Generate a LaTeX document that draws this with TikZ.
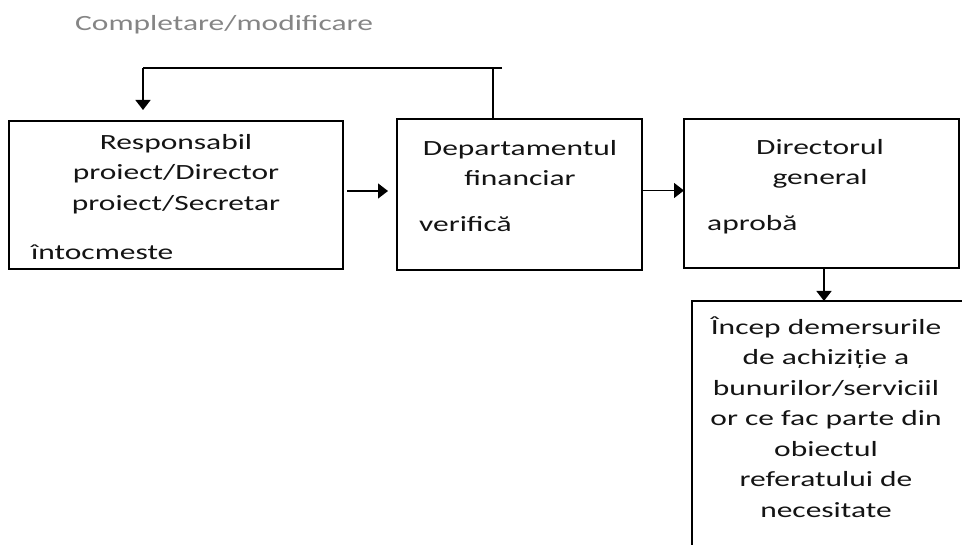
\documentclass[tikz,border=0pt]{standalone}
\usepackage{fontspec}
\setmainfont{Carlito}[FakeStretch=1.45]
\usetikzlibrary{arrows.meta}
\definecolor{titlegrey}{HTML}{858585}
\definecolor{txtgrey}{HTML}{141414}
\tikzset{
    box/.style={draw=black, line width=1.4pt, inner sep=0pt, outer sep=0pt},
    head/.style={align=center, inner sep=0pt, text=txtgrey,
        font=\fontsize{21.7}{30.5}\selectfont},
    note/.style={anchor=west, inner sep=0pt, text=txtgrey,
        font=\fontsize{21.7}{30.5}\selectfont},
    flow/.style={line width=1.4pt, -{Triangle[length=10pt,width=15pt]}},
    line/.style={line width=1.4pt}
}
\begin{document}
\begin{tikzpicture}[x=1pt, y=-1pt]
    \clip (0,0) rectangle (962,545);
    \fill[white] (0,0) rectangle (962,545);

    %%title of the return loop
        \node[note, text=titlegrey] (loopT) at (75,25){Completare/modificare};

    %%the boxes
    \node[box, minimum width=334pt, minimum height=148pt] (resp) at (176,195){};
        \node[head] (respT) at (176,174){Responsabil\\proiect/Director\\proiect/Secretar};
        \node[note] (respN) at (31,252){întocmeste};
    \node[box, minimum width=245pt, minimum height=151pt] (fin) at (519.5,194.5){};
        \node[head] (finT) at (520,163){Departamentul\\financiar};
        \node[note] (finN) at (419,224){verifică};
    \node[box, minimum width=275pt, minimum height=149pt] (dir) at (821.5,193.5){};
        \node[head] (dirT) at (820,164){Directorul\\general};
        \node[note] (dirN) at (707,225){aprobă};
    \node[box, minimum width=278pt, minimum height=274pt] (achiz) at (831,438){};
        \node[head] (achizT) at (826,417){Încep demersurile\\de achiziție a\\bunurilor/serviciil\\or ce fac parte din\\obiectul\\referatului de\\necesitate};

    %%the arrows
    \draw[flow, shorten <=4pt, shorten >=9pt] ([yshift=4pt]resp.east) -- ([yshift=4pt]resp.east -| fin.west);
    \draw[flow] ([yshift=4pt]fin.east) -- ([yshift=4pt]fin.east -| dir.west);
    \draw[flow] ([xshift=2.5pt]dir.south) -- ([xshift=2.5pt]dir.south |- achiz.north);

    %%return loop
    \coordinate (loopR) at (493,68);
    \coordinate (loopE) at (502,68);
    \coordinate (loopL) at (143,68);
    \draw[line] (fin.north -| loopR) -- (loopR);
    \draw[line] (loopE) -- (loopL);
    \draw[flow, shorten >=11pt] (loopL) -- (loopL |- resp.north);
\end{tikzpicture}
\end{document}
